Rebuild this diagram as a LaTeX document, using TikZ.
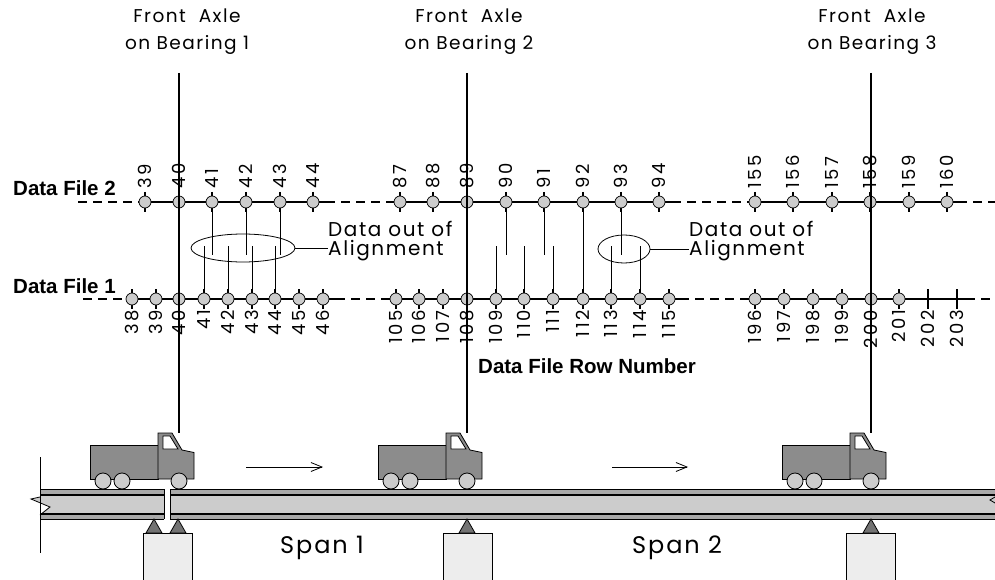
\documentclass[tikz,border=0pt]{standalone}
\usepackage{fontspec}
\usepackage{tikz}
\usetikzlibrary{positioning,shapes.geometric,arrows.meta}
\newfontfamily\thinfont{Poppins}[LetterSpace=8]
\newfontfamily\numfont{Poppins}[LetterSpace=14]
\newfontfamily\headfont{Liberation Sans}
\definecolor{dotgray}{gray}{0.8}
\definecolor{truckgray}{gray}{0.55}
\definecolor{deckgray}{gray}{0.8}
\definecolor{flangegray}{gray}{0.66}
\definecolor{piergray}{gray}{0.93}
\definecolor{padgray}{gray}{0.45}
\tikzset{%
  every sample/.style={
    circle,
    draw,
    fill=dotgray,
    minimum size=12pt,
    inner sep=0pt,
    line width=0.7pt
  },
  sample tick/.style={line width=1.6pt},
  data line/.style={line width=1.4pt},
  gap line/.style={line width=1.4pt, dash pattern=on 9pt off 6pt},
  row number/.style={rotate=90, inner sep=0pt, font=\numfont\fontsize{18}{18}\selectfont},
  file name/.style={anchor=base west, inner sep=0pt, font=\headfont\bfseries\fontsize{20.5}{22}\selectfont},
  axle title/.style={align=center, inner sep=0pt, font=\thinfont\fontsize{18.5}{27}\selectfont},
  note/.style={align=left, anchor=west, inner sep=0pt, font=\thinfont\fontsize{20}{19}\selectfont},
  misfit/.style={ellipse, draw, line width=0.8pt, inner sep=0pt},
  link/.style={line width=0.8pt},
  axle line/.style={line width=1.5pt},
  thin edge/.style={line width=0.8pt},
}

\begin{document}
\begin{tikzpicture}[x=1pt, y=-1pt, > = {Straight Barb[length=11pt,width=9pt]}]
\useasboundingbox (0,0) rectangle (995,580);

% data file 2
\draw[gap line] (78,202) -- (145,202);
\draw[data line] (145,202) -- (326,202);
\draw[gap line] (326,202) -- (400,202);
\draw[data line] (400,202) -- (672,202);
\draw[gap line] (672,202) -- (755,202);
\draw[data line] (755,202) -- (958,202);
\draw[gap line] (958,202) -- (995,202);
\foreach \n/\x in {39/145, 40/179, 41/212, 42/246, 43/280, 44/313,
                   87/400, 88/433, 89/467, 90/506, 91/544, 92/583, 93/621, 94/659,
                   155/755, 156/793, 157/832, 158/870, 159/909, 160/947}
    {\draw[sample tick] (\x,192) -- (\x,212);
     \node[every sample] (t\n) at (\x,202) {};
     \node[row number, anchor=west] (tl\n) at (\x,189) {\n};}

% data file 1
\draw[gap line] (83,299) -- (132,299);
\draw[data line] (132,299) -- (336,299);
\draw[gap line] (336,299) -- (396,299);
\draw[data line] (396,299) -- (680,299);
\draw[gap line] (680,299) -- (755,299);
\draw[data line] (755,299) -- (966,299);
\draw[gap line] (966,299) -- (995,299);
\foreach \n/\x in {38/132, 39/156, 40/179, 41/204, 42/228, 43/252, 44/275, 45/299, 46/323,
                   105/396, 106/419, 107/443, 108/467, 109/496, 110/524, 111/553,
                   112/583, 113/611, 114/640, 115/669,
                   196/755, 197/784, 198/813, 199/842, 200/871, 201/899}
    {\draw[sample tick] (\x,289) -- (\x,309);
     \node[every sample] (b\n) at (\x,299) {};
     \node[row number, anchor=east] (bl\n) at (\x,310) {\n};}
\foreach \n/\x in {202/928, 203/957}
    {\draw[sample tick] (\x,289) -- (\x,309);
     \node[row number, anchor=east] (bl\n) at (\x,310) {\n};}

\node[file name] (file2) at (13,196) {Data File 2};
\node[file name] (file1) at (13,293) {Data File 1};
\node[file name] (rowcap) at (478,373) {Data File Row Number};

% rows that do not line up
\coordinate (upper end) at (0,255);
\coordinate (lower end) at (0,246);
\foreach \n in {41,42,43,90,91,93}
    \draw[link] (t\n) -- (t\n |- upper end);
\foreach \n in {41,42,43,44,109,110,111,113,114}
    \draw[link] (b\n) -- (b\n |- lower end);
\draw[link] (t92) -- (b112);

\node[misfit, minimum width=104pt, minimum height=28pt] (odd_a) at (243,248) {};
\node[misfit, minimum width=52pt, minimum height=28pt] (odd_b) at (624,249) {};
\node[note] (note_a) at (328,241) {Data out of\\Alignment};
\node[note] (note_b) at (689,241) {Data out of\\Alignment};
\draw[link] (odd_a.east) -- (odd_a.east -| note_a.west);
\draw[link] (odd_b.east) -- (odd_b.east -| note_b.west);

% bridge deck
\fill[deckgray] (40,489) -- (164,489) -- (164,519) -- (40,519) -- (40,515) -- (50,507) -- (31,499) -- (40,497) -- cycle;
\fill[deckgray] (170,489) rectangle (995,519);
\fill[flangegray] (40,489) rectangle (164,495) (170,489) rectangle (995,495);
\fill[flangegray] (40,514) rectangle (164,519) (170,514) rectangle (995,519);
\foreach \y in {489,519}
    \draw[thin edge] (40,\y) -- (164,\y) (170,\y) -- (995,\y);
\foreach \y in {495,514}
    \draw[line width=1.3pt] (40,\y) -- (164,\y) (170,\y) -- (995,\y);
\draw[thin edge] (40,497) -- (31,499) -- (50,507) -- (40,515);
\draw[thin edge] (164,489) -- (164,519) (170,489) -- (170,519);
\draw[thin edge] (40,457) -- (40,553);
\draw[thin edge] (995,497) -- (990,500) -- (995,503);

% piers and bearings
\foreach \px in {167.5, 467.5, 870.5}
    \draw[thin edge, fill=piergray] (\px-24.5,533) rectangle (\px+24.5,590);
\foreach \bx in {154, 178, 467, 871}
    \draw[thin edge, fill=padgray] (\bx-8,533) -- (\bx,519) -- (\bx+8,533) -- cycle;

\node[font=\thinfont\fontsize{24}{24}\selectfont] (span1) at (322,548) {Span 1};
\node[font=\thinfont\fontsize{24}{24}\selectfont] (span2) at (677,548) {Span 2};

% trucks, front axle over each bearing
\foreach \i/\fx/\lx in {1/179/187, 2/467/469, 3/871/872}
    {\node[axle title] (title\i) at (\lx,32) {Front\ \ Axle\\on Bearing \i};
     \coordinate (top\i) at (\fx,73);
     \coordinate (cab\i) at (\fx,433);
     \draw[axle line] (top\i) -- (cab\i);
     \begin{scope}[shift={(\fx,0)}, thin edge]
       \draw[fill=truckgray] (-89,445) rectangle (-21,479);
       \draw[fill=truckgray] (-21,479) -- (-21,433) -- (-7,433) -- (3,450) -- (15,452.5) -- (15,479) -- cycle;
       \draw[fill=white] (-16,436) -- (-9,436) -- (-1,449) -- (-16,449) -- cycle;
       \foreach \w in {-76,-57,0}
           \draw[fill=dotgray] (\w,481) circle (8);
     \end{scope}}

\coordinate (run_a) at (246,467);
\coordinate (run_a end) at (323,467);
\coordinate (run_b) at (612,467);
\coordinate (run_b end) at (688,467);
\draw[->, thin edge] (run_a) -- (run_a end);
\draw[->, thin edge] (run_b) -- (run_b end);
\end{tikzpicture}
\end{document}
